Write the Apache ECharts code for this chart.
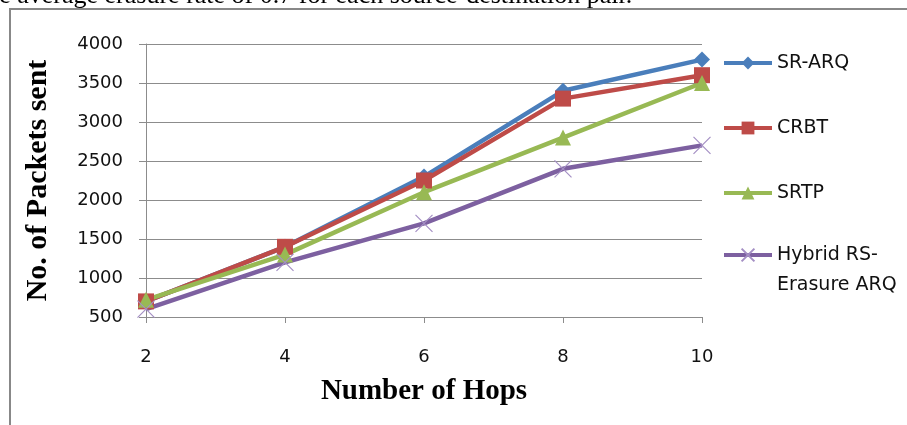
<!DOCTYPE html>
<html>
<head>
<meta charset="utf-8">
<script src="https://cdn.jsdelivr.net/npm/echarts@6/dist/echarts.min.js"></script>
<style>
  html, body { margin: 0; padding: 0; background: #fff; }
  #chart { width: 907px; height: 425px; }
</style>
</head>
<body>
<div id="chart"></div>
<script>
// Hop counts on the x axis
const hops = [2, 4, 6, 8, 10];

// Packets sent per protocol
const srArq = [700, 1400, 2300, 3400, 3800];
const crbt = [700, 1400, 2250, 3300, 3600];
const srtp = [720, 1300, 2100, 2800, 3500];
const hybridRs = [600, 1200, 1700, 2400, 2700];

const seriesNames = ['SR-ARQ', 'CRBT', 'SRTP', 'Hybrid RS-\nErasure ARQ'];
const yTicks = { min: 500, max: 4000, step: 500 };

const captionText = 'the average erasure rate of 0.7 for each source-destination pair.';

const tickFont = 'DejaVu Sans';
const titleFont = 'Liberation Serif';

function pairs(values) {
  return hops.map((h, i) => [h, values[i]]);
}

const crossPath = 'path://M0,0L10,10M10,0L0,10';

const legendBase = {
  orient: 'vertical',
  left: 722,
  padding: 0,
  itemWidth: 48,
  itemHeight: 16,
  itemGap: 35,
  lineStyle: { width: 4 },
  textStyle: { fontFamily: tickFont, fontSize: 19, color: '#111', lineHeight: 30 }
};

const chart = echarts.init(document.getElementById('chart'), null, { renderer: 'canvas' });

chart.setOption({
  backgroundColor: '#ffffff',
  animation: false,
  grid: { left: 146, right: 205, top: 44, bottom: 108, containLabel: false },
  xAxis: {
    type: 'value',
    min: 2, max: 10, interval: 2,
    name: 'Number of Hops',
    nameLocation: 'middle',
    nameGap: 60,
    nameTextStyle: { fontFamily: titleFont, fontWeight: 'bold', fontSize: 29, color: '#000' },
    axisLine: { show: true, lineStyle: { color: '#8c8c8c', width: 1 } },
    axisTick: { show: true, length: 6, inside: false, lineStyle: { color: '#8c8c8c' } },
    axisLabel: { fontFamily: tickFont, fontSize: 18, color: '#111', margin: 31 },
    splitLine: { show: false }
  },
  yAxis: {
    type: 'value',
    min: yTicks.min, max: yTicks.max, interval: yTicks.step,
    name: 'No. of Packets sent',
    nameLocation: 'middle',
    nameGap: 93,
    nameTextStyle: { fontFamily: titleFont, fontWeight: 'bold', fontSize: 30, color: '#000' },
    axisLine: { show: true, lineStyle: { color: '#8c8c8c', width: 1 } },
    axisTick: { show: true, length: 7, inside: false, lineStyle: { color: '#8c8c8c' } },
    axisLabel: { fontFamily: tickFont, fontSize: 18, color: '#111', margin: 23, formatter: v => String(v) },
    splitLine: { show: true, lineStyle: { color: '#8c8c8c', width: 1 } }
  },
  legend: [
    Object.assign({}, legendBase, {
      top: 48,
      data: seriesNames.slice(0, 3)
    }),
    // the two-line entry keeps its marker level with the first line
    Object.assign({}, legendBase, {
      top: 210,
      data: [seriesNames[3]],
      formatter: name => '\n' + name
    })
  ],
  graphic: [
    {
      type: 'rect',
      shape: { x: 10, y: 9, width: 1000, height: 1000 },
      style: { fill: 'none', stroke: '#888888', lineWidth: 2 },
      silent: true
    },
    {
      type: 'text',
      x: -21,
      y: -4,
      style: { text: captionText, fontFamily: titleFont, fontSize: 26, fill: '#000', verticalAlign: 'middle' },
      silent: true
    }
  ],
  series: [
    {
      name: seriesNames[0], type: 'line', data: pairs(srArq),
      symbol: 'diamond', symbolSize: 16,
      lineStyle: { color: '#4a7ebb', width: 4.5 },
      itemStyle: { color: '#4a7ebb' }
    },
    {
      name: seriesNames[1], type: 'line', data: pairs(crbt),
      symbol: 'rect', symbolSize: 16,
      lineStyle: { color: '#be4b48', width: 4.5 },
      itemStyle: { color: '#be4b48' }
    },
    {
      name: seriesNames[2], type: 'line', data: pairs(srtp),
      symbol: 'triangle', symbolSize: 16,
      lineStyle: { color: '#98b954', width: 4.5 },
      itemStyle: { color: '#98b954' }
    },
    {
      name: seriesNames[3], type: 'line', data: pairs(hybridRs),
      symbol: crossPath, symbolSize: 17,
      lineStyle: { color: '#7d60a0', width: 4.5 },
      itemStyle: { color: '#7d60a0', borderColor: '#a48fc4', borderWidth: 1.2 }
    }
  ]
});
</script>
</body>
</html>
